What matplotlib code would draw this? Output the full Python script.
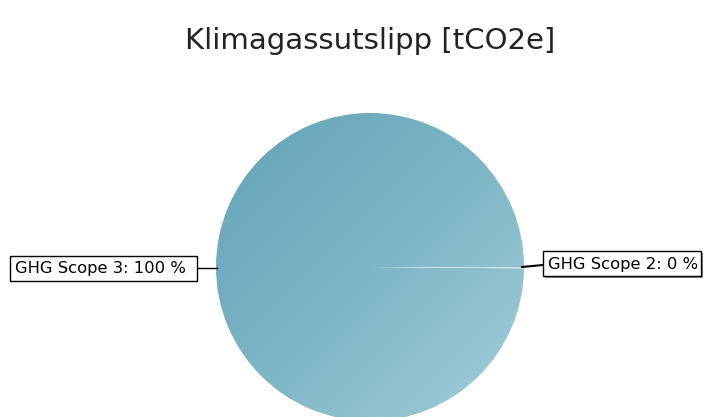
import numpy as np
import matplotlib
matplotlib.use("Agg")
import matplotlib.pyplot as plt
from matplotlib.colors import LinearSegmentedColormap
from matplotlib.patches import Rectangle

title = "Klimagassutslipp [tCO2e]"
categories = ["GHG Scope 2", "GHG Scope 3"]
values = [0.15, 99.85]
pct_labels = ["0 %", "100 %"]

W, H = 705, 417
fig = plt.figure(figsize=(W / 100, H / 100), dpi=100)
ax = fig.add_axes([0, 0, 1, 1])

cx, cy, r = 370, 267, 154
wedges, _ = ax.pie(values, center=(cx, cy), radius=r, startangle=0,
                   counterclock=True, frame=True,
                   wedgeprops=dict(linewidth=0))
ax.set_xlim(0, W)
ax.set_ylim(H, 0)
ax.set_aspect("equal")
ax.axis("off")

# gradient fill for the big wedge
cmap = LinearSegmentedColormap.from_list("g", ["#62a3b6", "#7db6c6", "#a4cdd8"])
n = 400
xx, yy = np.meshgrid(np.linspace(0, 1, n), np.linspace(0, 1, n))
grad = (xx + yy) / 2
big = wedges[1]
big.set_facecolor("none")
im = ax.imshow(grad, cmap=cmap, extent=(cx - r, cx + r, cy + r, cy - r),
               interpolation="bilinear", zorder=1)
im.set_clip_path(big)
wedges[0].set_facecolor("#c8e4dc")
wedges[0].set_zorder(2)

ax.text(W / 2 + 18, 41, title, ha="center", va="center", fontsize=21,
        color="#222222", family="DejaVu Sans")

def label_box(x0, y0, w, h, text, shadow):
    if shadow:
        ax.add_patch(Rectangle((x0 + 2, y0 + 2), w, h, facecolor="#888888",
                               edgecolor="none", zorder=4))
    ax.add_patch(Rectangle((x0, y0), w, h, facecolor="white",
                           edgecolor="black", linewidth=1, zorder=5))
    ax.text(x0 + 5, y0 + h / 2 + 0.5, text, ha="left", va="center",
            fontsize=11.8, color="black", zorder=6, family="DejaVu Sans")

# Scope 3 label (left)
ax.plot([197, cx - r + 1], [268, 268], color="black", lw=1, zorder=3)
label_box(10, 256, 187, 25, f"{categories[1]}: {pct_labels[1]}", False)
# Scope 2 label (right)
ax.plot([cx + r - 2, 543], [267, 265], color="black", lw=1.5, zorder=3)
label_box(543, 251, 158, 25, f"{categories[0]}: {pct_labels[0]}", True)

fig.savefig("out.png", dpi=100, facecolor="white")
